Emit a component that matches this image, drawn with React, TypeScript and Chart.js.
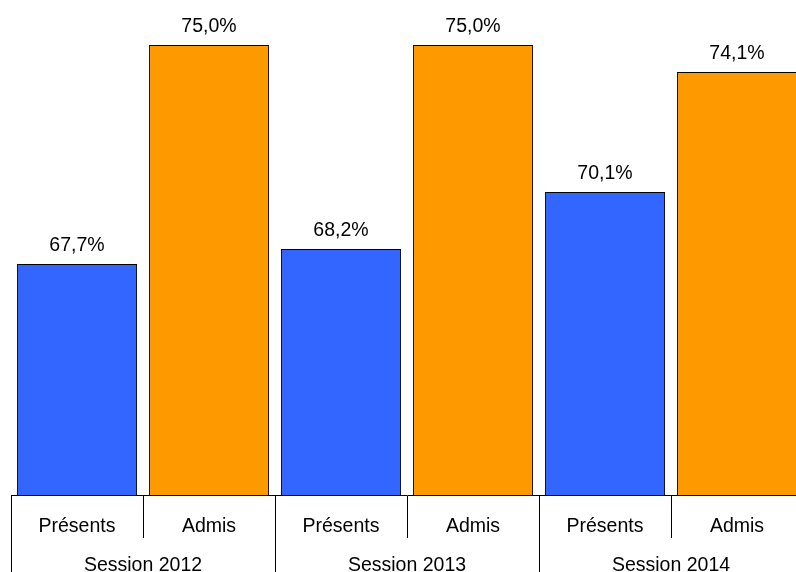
import React, { useEffect, useRef } from "react";
import { Chart, registerables } from "chart.js";

Chart.register(...registerables);

const categories = ["Présents", "Admis", "Présents", "Admis", "Présents", "Admis"];
const sessions = ["Session 2012", "Session 2013", "Session 2014"];
const values = [67.7, 75.0, 68.2, 75.0, 70.1, 74.1];
const colors = ["#3366FF", "#FF9900", "#3366FF", "#FF9900", "#3366FF", "#FF9900"];
const valueLabels = ["67,7%", "75,0%", "68,2%", "75,0%", "70,1%", "74,1%"];

const FONT = { family: "'Liberation Sans', Arial, sans-serif", size: 19.5 };

const valueLabelPlugin = {
  id: "valueLabels",
  afterDatasetsDraw(chart: any) {
    const ctx = chart.ctx;
    const meta = chart.getDatasetMeta(0);
    ctx.save();
    ctx.font = `${FONT.size}px ${FONT.family}`;
    ctx.fillStyle = "#000000";
    ctx.textAlign = "center";
    ctx.textBaseline = "middle";
    meta.data.forEach((bar: any, i: number) => {
      ctx.fillText(valueLabels[i], bar.x, bar.y - 18);
    });
    ctx.restore();
  },
};

export default function App() {
  const ref = useRef<HTMLCanvasElement>(null);
  useEffect(() => {
    if (!ref.current) return;
    const chart = new Chart(ref.current, {
      type: "bar",
      data: {
        labels: categories,
        datasets: [
          {
            data: values,
            backgroundColor: colors,
            borderColor: "#000000",
            borderWidth: 1,
            categoryPercentage: 1,
            barPercentage: 0.91,
          },
        ],
      },
      options: {
        responsive: false,
        animation: false,
        layout: { padding: { left: 11, right: 17, top: 0, bottom: 0 } },
        plugins: { legend: { display: false }, tooltip: { enabled: false } },
        scales: {
          y: { display: false, min: 60, max: 76.5 },
          x: {
            position: "bottom",
            offset: true,
            grid: {
              offset: true,
              drawOnChartArea: false,
              drawTicks: true,
              tickLength: 43,
              color: "#000000",
              lineWidth: 1,
            },
            border: { display: true, color: "#000000", width: 1 },
            ticks: {
              color: "#000000",
              font: FONT,
              padding: -22.7,
              maxRotation: 0,
              autoSkip: false,
            },
            afterFit: (scale: any) => {
              scale.height = 43;
            },
          },
          x2: {
            type: "category",
            position: "bottom",
            labels: sessions,
            offset: true,
            grid: {
              offset: true,
              drawOnChartArea: false,
              drawTicks: true,
              tickLength: 34,
              color: "#000000",
              lineWidth: 1,
            },
            border: { display: false },
            ticks: {
              color: "#000000",
              font: FONT,
              padding: -17.7,
              maxRotation: 0,
              autoSkip: false,
            },
            afterFit: (scale: any) => {
              scale.height = 34;
            },
          },
        },
      },
      plugins: [valueLabelPlugin],
    });
    return () => chart.destroy();
  }, []);
  return (
    <div style={{ position: "fixed", left: 0, top: 0, width: 820, height: 572, background: "#ffffff" }}>
      <canvas ref={ref} width={820} height={572} style={{ width: 820, height: 572 }} />
    </div>
  );
}
